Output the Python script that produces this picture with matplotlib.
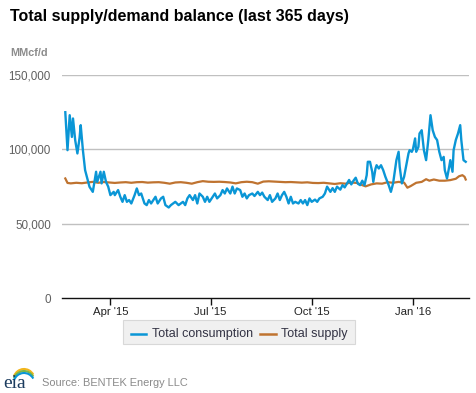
import numpy as np
import pandas as pd
import matplotlib
matplotlib.use("Agg")
import matplotlib.pyplot as plt
from matplotlib.patches import Arc, FancyBboxPatch
from matplotlib.lines import Line2D

# ---------------- data ----------------
start_date = "2015-02-19"

cons_days = [0, 2, 4, 6, 7, 9, 11, 13, 14, 16, 18, 20, 22, 24, 25, 28, 29, 32, 33, 35,
             37, 39, 41, 44, 45, 48, 50, 52, 54, 56, 58, 60, 63, 65, 67, 69, 72, 74, 76, 78,
             80, 82, 84, 87, 89, 91, 94, 96, 98, 100, 103, 105, 107, 109, 111, 113, 116, 118, 120, 122,
             125, 127, 129, 131, 134, 136, 138, 141, 143, 145, 147, 150, 152, 154, 156, 159, 161, 163, 165, 167,
             170, 172, 175, 177, 179, 181, 184, 186, 188, 191, 193, 195, 197, 199, 201, 203, 205, 207, 209, 212,
             214, 216, 218, 220, 222, 224, 227, 229, 231, 234, 236, 238, 241, 243, 245, 247, 250, 252, 254, 256,
             258, 260, 262, 264, 266, 268, 270, 272, 274, 275, 277, 279, 280, 282, 283, 285, 287, 289, 291, 294,
             296, 298, 301, 303, 304, 306, 308, 310, 312, 313, 315, 316, 318, 319, 321, 322, 324, 326, 328, 330,
             332, 334, 336, 338, 340, 342, 344, 345, 347, 349, 350, 352, 353, 355, 357, 359, 360, 362, 364]
consumption = [125000, 99500, 123000, 108400, 120800, 106200, 97300, 108000, 116300, 99500,
               86100, 80500, 74900, 72700, 71500, 85000, 78200, 85000, 77200, 85000,
               78200, 75000, 69300, 71500, 69300, 72700, 68200, 64800, 69300, 64800,
               66000, 63700, 69300, 73800, 69300, 70400, 63700, 62600, 66000, 63700,
               66000, 68200, 63700, 67100, 68200, 62600, 61000, 62600, 63700, 64800,
               62600, 63700, 64800, 62600, 67100, 69300, 66000, 69300, 63700, 70400,
               68200, 64800, 68200, 64800, 68200, 70400, 67100, 69300, 72700, 70400,
               73800, 70400, 75000, 70400, 73800, 72700, 68200, 70400, 67100, 69300,
               70400, 68700, 71500, 69300, 71000, 68200, 66000, 69300, 64800, 67100,
               70400, 66000, 69300, 71500, 68200, 63700, 68200, 63700, 64800, 63700,
               66000, 63700, 66000, 62600, 67100, 64800, 66300, 64800, 67100, 68200,
               70400, 75000, 71500, 74000, 71500, 75000, 73000, 76000, 74500, 77000,
               79500, 76500, 79000, 81000, 77000, 76000, 79000, 76000, 82700, 91700,
               91700, 85000, 78200, 87200, 89400, 87200, 89400, 86100, 81600, 76000,
               71500, 77200, 92800, 98400, 88300, 77200, 81600, 89400, 97300, 99500,
               98400, 100000, 107400, 98400, 101700, 110700, 112900, 99500, 92800, 106300,
               123000, 112900, 108400, 106300, 98400, 92800, 95000, 86100, 80500, 88300,
               92800, 85000, 99500, 106300, 110700, 116300, 106300, 92800, 91700]

supply_days = [0, 2, 5, 10, 15, 20, 25, 30, 35, 40, 45, 50, 55, 60, 65, 70, 75, 80, 85, 90,
               95, 100, 105, 110, 115, 120, 125, 130, 135, 140, 145, 150, 155, 160, 165, 170, 175, 180, 185, 190,
               195, 200, 205, 210, 215, 220, 225, 230, 235, 240, 245, 250, 255, 260, 265, 270, 273, 278, 283, 288,
               293, 298, 303, 308, 311, 314, 319, 324, 328, 331, 335, 340, 345, 350, 355, 358, 361, 363, 364]
supply = [80500, 77500, 77200, 77600, 77300, 77800, 78200, 77600, 78100, 77800,
          77500, 77800, 78000, 77600, 78000, 78100, 77700, 77900, 78000, 77600,
          77000, 77800, 78000, 77600, 77000, 78000, 78700, 78300, 78200, 78300,
          78100, 77800, 77200, 78000, 78300, 78000, 77000, 78400, 78600, 78400,
          78200, 78000, 78100, 77900, 77700, 77900, 77500, 77400, 77600, 77200,
          76800, 77300, 77000, 77800, 77500, 76000, 75200, 76500, 77200, 77000,
          78000, 77600, 78200, 77700, 74300, 75400, 77600, 78200, 80000, 79000,
          79800, 79000, 79000, 79400, 80300, 82000, 82700, 81600, 79800]

tick_dates = ["2015-04-01", "2015-07-01", "2015-10-01", "2016-01-01"]
tick_labels = ["Apr '15", "Jul '15", "Oct '15", "Jan '16"]
y_ticks = [0, 50000, 100000, 150000]
y_labels = ["0", "50,000", "100,000", "150,000"]

# ---------------- plot ----------------
plt.rcParams['font.family'] = ['Liberation Sans', 'DejaVu Sans']

W, H = 477, 393
fig = plt.figure(figsize=(W / 100, H / 100), dpi=100)
fig.patch.set_facecolor("white")

ax = fig.add_axes([62 / W, 1 - 298.3 / H, (469 - 62) / W, (298.3 - 75) / H])

t0 = pd.Timestamp(start_date)
cd = t0 + pd.to_timedelta(cons_days, unit="D")
sd = t0 + pd.to_timedelta(supply_days, unit="D")

blue = "#0a96d6"
brown = "#bf7330"

ax.plot(sd, supply, color=brown, lw=1.6, zorder=3, solid_joinstyle="round")
ax.plot(cd, consumption, color=blue, lw=1.7, zorder=4, solid_joinstyle="round")

ax.set_xlim(t0 - pd.Timedelta(days=3), t0 + pd.Timedelta(days=367))
ax.set_ylim(0, 150000)

ax.set_yticks(y_ticks)
ax.set_yticklabels(y_labels)
ax.set_xticks(pd.to_datetime(tick_dates))
ax.set_xticklabels(tick_labels)

for v in y_ticks[1:]:
    ax.axhline(v, color="#c0c0c0", lw=1.0, zorder=1)

for s in ["top", "right", "left"]:
    ax.spines[s].set_visible(False)
ax.spines["bottom"].set_color("#111111")
ax.spines["bottom"].set_linewidth(1.0)

ax.tick_params(axis="y", length=0, pad=8, labelsize=8.4, labelcolor="#606060")
ax.tick_params(axis="x", length=5, width=1, color="#111111", pad=1,
               labelsize=8.2, labelcolor="#222222", direction="out")

# title and unit
fig.text(10 / W, 1 - 17 / H, "Total supply/demand balance (last 365 days)",
         fontsize=11.5, fontweight="bold", color="#000000", va="center", ha="left")
fig.text(10 / W, 1 - 53 / H, "MMcf/d", fontsize=7.8, fontweight="bold",
         color="#8c8c8c", va="center", ha="left")

# legend box
lx0, lx1, ly0, ly1 = 123, 355, 320, 344
box = FancyBboxPatch((lx0 / W, 1 - ly1 / H), (lx1 - lx0) / W, (ly1 - ly0) / H,
                     boxstyle="square,pad=0", transform=fig.transFigure,
                     facecolor="#f0f0f0", edgecolor="#d8d8d8", lw=0.8)
fig.patches.append(box)
yl = 1 - 333.5 / H
fig.lines.append(Line2D([131 / W, 146 / W], [yl, yl], color=blue, lw=1.8,
                        transform=fig.transFigure))
fig.text(152 / W, yl, "Total consumption", fontsize=9, color="#333344",
         va="center", ha="left")
fig.lines.append(Line2D([260 / W, 276 / W], [yl, yl], color=brown, lw=1.8,
                        transform=fig.transFigure))
fig.text(281 / W, yl, "Total supply", fontsize=9, color="#333344",
         va="center", ha="left")

# source
fig.text(42 / W, 1 - 383 / H, "Source: BENTEK Energy LLC", fontsize=7.9,
         color="#8a8a8a", va="center", ha="left")

# eia logo
fig.text(3 / W, 1 - 383 / H, "eia", fontsize=14, family=["Liberation Serif", "DejaVu Serif"],
         color="#1b3b5e", va="center", ha="left")
for c, dy in [("#f2b51c", 0), ("#7ab648", 2), ("#0a96d6", 4)]:
    arc = Arc((24 / W, 1 - (381 + dy) / H), 22 / W, 24 / H, theta1=40, theta2=150,
              transform=fig.transFigure, color=c, lw=1.5)
    fig.patches.append(arc)

fig.savefig("out.png", dpi=100, facecolor="white")
